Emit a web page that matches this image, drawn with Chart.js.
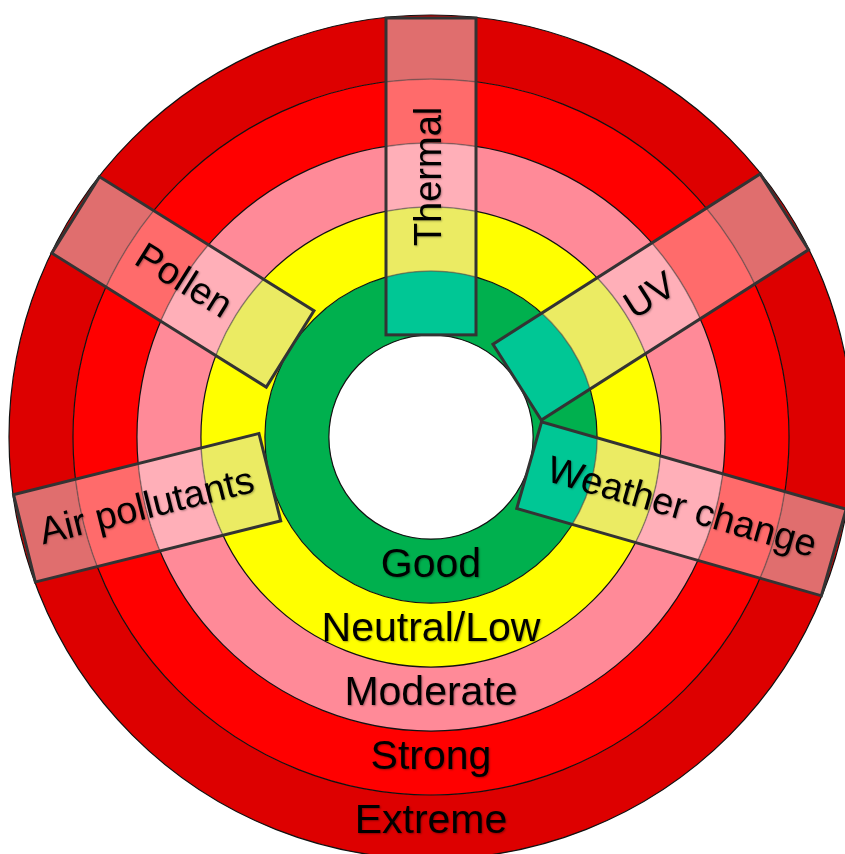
<!DOCTYPE html>
<html lang="en">

<head>
    <meta charset="UTF-8">
    <script src="https://cdn.jsdelivr.net/npm/chart.js"></script>
    <title>Levels</title>
    <style>
        html, body { margin: 0; padding: 0; background: #fff; overflow: hidden; }
        .box { position: absolute; left: 0; top: 0; width: 845px; height: 854px; }
    </style>
</head>

<body>
    <div class="box">
        <canvas id="myChart"></canvas>
    </div>
</body>

</html>

<script>
    // levels from inside to outside
    const levels = ['Good', 'Neutral/Low', 'Moderate', 'Strong', 'Extreme']
    const levelColors = ['#00B04E', '#FFFF00', '#FF8A98', '#FF0000', '#DD0000']
    const levelHighlight = ['#00C795', '#EBEB63', '#FFAFB8', '#FF6B6B', '#E06E6E']

    // factors, direction (degrees clockwise from top) and first level they reach
    const factors = ['Thermal', 'UV', 'Weather change', 'Air pollutants', 'Pollen']
    const factorAngles = [0, 57.5, 106, 256, 302]
    const factorFromLevel = [0, 0, 0, 1, 1]

    const barWidth = 90

    const ringPlugin = {
        id: 'rings',
        afterDatasetsDraw(chart) {
            const ctx = chart.ctx
            const n = levels.length
            // dataset 0 is the outer ring
            const ring = i => chart.getDatasetMeta(n - 1 - i).data[0]
            const cx = ring(0).x
            const cy = ring(0).y
            const radii = levels.map((l, i) => ({ inner: ring(i).innerRadius, outer: ring(i).outerRadius }))

            ctx.save()
            // ring edges
            ctx.strokeStyle = '#111'
            ctx.lineWidth = 1.2
            ctx.beginPath()
            ctx.arc(cx, cy, radii[0].inner, 0, 2 * Math.PI)
            ctx.stroke()
            radii.forEach(r => {
                ctx.beginPath()
                ctx.arc(cx, cy, r.outer, 0, 2 * Math.PI)
                ctx.stroke()
            })

            // level names along the bottom
            ctx.font = '41px "Liberation Sans", Arial, sans-serif'
            ctx.fillStyle = '#000'
            ctx.textAlign = 'center'
            ctx.textBaseline = 'middle'
            ctx.shadowColor = 'rgba(0,0,0,0.35)'
            ctx.shadowBlur = 2
            ctx.shadowOffsetX = 1
            ctx.shadowOffsetY = 1
            levels.forEach((name, i) => {
                const mid = (radii[i].inner + radii[i].outer) / 2
                ctx.fillText(name, cx, cy + mid - 5)
            })
            ctx.restore()

            // factor bars
            factors.forEach((name, k) => {
                const a = factorAngles[k] * Math.PI / 180
                const r0 = radii[factorFromLevel[k]].inner
                const r1 = radii[n - 1].outer - 3

                ctx.save()
                ctx.translate(cx, cy)
                ctx.rotate(a)

                ctx.save()
                ctx.beginPath()
                ctx.rect(-barWidth / 2, -r1, barWidth, r1 - r0)
                ctx.clip()
                for (let i = 0; i < n; i++) {
                    ctx.beginPath()
                    ctx.arc(0, 0, radii[i].outer, 0, 2 * Math.PI)
                    ctx.arc(0, 0, radii[i].inner, 0, 2 * Math.PI, true)
                    ctx.fillStyle = levelHighlight[i]
                    ctx.fill()
                }
                ctx.strokeStyle = 'rgba(80,80,80,0.55)'
                ctx.lineWidth = 1.5
                radii.forEach(r => {
                    ctx.beginPath()
                    ctx.arc(0, 0, r.outer, 0, 2 * Math.PI)
                    ctx.stroke()
                })
                ctx.restore()

                // label, reading outward on the right, inward on the left
                ctx.save()
                ctx.translate(0, -(r0 + r1) / 2)
                ctx.rotate(factorAngles[k] > 180 ? Math.PI / 2 : -Math.PI / 2)
                ctx.font = '38px "Liberation Sans", Arial, sans-serif'
                ctx.fillStyle = '#000'
                ctx.textAlign = 'center'
                ctx.textBaseline = 'middle'
                ctx.shadowColor = 'rgba(0,0,0,0.3)'
                ctx.shadowBlur = 2
                ctx.shadowOffsetX = 1
                ctx.shadowOffsetY = 1
                ctx.fillText(name, 0, 0)
                ctx.restore()

                ctx.strokeStyle = '#333'
                ctx.lineWidth = 3
                ctx.strokeRect(-barWidth / 2, -r1, barWidth, r1 - r0)
                ctx.restore()
            })
        }
    }

    function plotarGrafico() {
        const ctx = document.getElementById('myChart')

        // one dataset per ring, outer ring first
        const datasets = []
        for (let i = levels.length - 1; i >= 0; i--) {
            datasets.push({
                label: levels[i],
                data: [1],
                backgroundColor: [levelColors[i]],
                borderWidth: 0,
                hoverOffset: 0
            })
        }

        new Chart(ctx, {
            type: 'doughnut',
            data: {
                labels: ['level'],
                datasets: datasets
            },
            options: {
                responsive: true,
                maintainAspectRatio: false,
                animation: false,
                events: [],
                cutout: '24.2%',
                radius: 422,
                layout: {
                    padding: { left: 17, top: 20, right: 0, bottom: 0 }
                },
                plugins: {
                    legend: { display: false },
                    tooltip: { enabled: false }
                }
            },
            plugins: [ringPlugin]
        })
    }

    plotarGrafico()
</script>
